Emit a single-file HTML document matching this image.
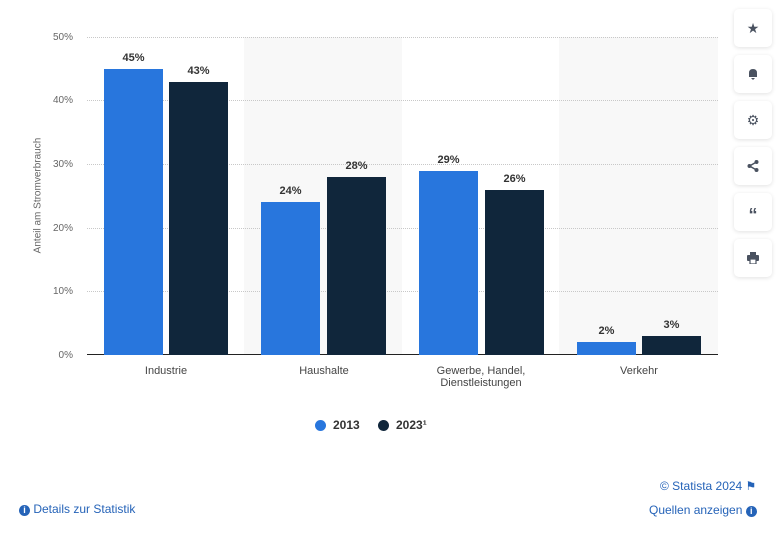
<!DOCTYPE html>
<html><head><meta charset="utf-8"><style>
body{margin:0;width:776px;height:533px;background:#fff;font-family:"Liberation Sans",sans-serif;position:relative;overflow:hidden}
.a{position:absolute}
.g{position:absolute;left:87px;width:631px;border-top:1px dotted #c8c8c8;height:0}
.yl{position:absolute;left:40px;width:33px;text-align:right;font-size:10px;color:#666}
.b{position:absolute;width:59px}
.v{position:absolute;width:59px;text-align:center;font-size:11px;font-weight:bold;color:#333}
.c{position:absolute;width:150px;text-align:center;font-size:11px;color:#444;line-height:12px}
.btn{position:absolute;left:734px;width:38px;height:38px;background:#fff;border-radius:5px;box-shadow:0 1px 4px rgba(0,0,0,.12);color:#4a5260;font-size:14px;text-align:center;line-height:38px}
.btn svg{position:absolute;left:13px;top:13px}
</style></head><body>
<div class="a" style="left:244px;top:37px;width:158px;height:318px;background:#f8f8f8"></div>
<div class="a" style="left:559px;top:37px;width:159px;height:318px;background:#f8f8f8"></div>
<div class="g" style="top:37px"></div><div class="g" style="top:100px"></div><div class="g" style="top:164px"></div><div class="g" style="top:228px"></div><div class="g" style="top:291px"></div>
<div class="a" style="left:87px;top:354px;width:631px;height:1px;background:#222"></div>
<div class="yl" style="top:32px">50%</div><div class="yl" style="top:95px">40%</div><div class="yl" style="top:159px">30%</div><div class="yl" style="top:223px">20%</div><div class="yl" style="top:286px">10%</div><div class="yl" style="top:350px">0%</div>
<div class="a" style="left:-22px;top:190px;width:120px;text-align:center;font-size:10px;color:#666;transform:rotate(-90deg)">Anteil am Stromverbrauch</div>
<div class="b" style="left:104px;top:69px;height:286px;background:#2876dd"></div>
<div class="b" style="left:169px;top:82px;height:273px;background:#10263b"></div>
<div class="b" style="left:261px;top:202px;height:153px;background:#2876dd"></div>
<div class="b" style="left:327px;top:177px;height:178px;background:#10263b"></div>
<div class="b" style="left:419px;top:171px;height:184px;background:#2876dd"></div>
<div class="b" style="left:485px;top:190px;height:165px;background:#10263b"></div>
<div class="b" style="left:577px;top:342px;height:13px;background:#2876dd"></div>
<div class="b" style="left:642px;top:336px;height:19px;background:#10263b"></div>
<div class="v" style="left:104px;top:52px">45%</div><div class="v" style="left:169px;top:65px">43%</div>
<div class="v" style="left:261px;top:185px">24%</div><div class="v" style="left:327px;top:160px">28%</div>
<div class="v" style="left:419px;top:154px">29%</div><div class="v" style="left:485px;top:173px">26%</div>
<div class="v" style="left:577px;top:325px">2%</div><div class="v" style="left:642px;top:319px">3%</div>
<div class="c" style="left:91px;top:365px">Industrie</div>
<div class="c" style="left:249px;top:365px">Haushalte</div>
<div class="c" style="left:406px;top:365px">Gewerbe, Handel,<br>Dienstleistungen</div>
<div class="c" style="left:564px;top:365px">Verkehr</div>
<div class="a" style="left:315px;top:420px;width:11px;height:11px;border-radius:50%;background:#2876dd"></div>
<div class="a" style="left:333px;top:418px;font-size:12px;font-weight:bold;color:#333">2013</div>
<div class="a" style="left:378px;top:420px;width:11px;height:11px;border-radius:50%;background:#10263b"></div>
<div class="a" style="left:396px;top:418px;font-size:12px;font-weight:bold;color:#333">2023¹</div>
<div class="btn" style="top:9px">★</div>
<div class="btn" style="top:55px"><svg width="12" height="12"><path d="M2 9 L2 5 Q2 1 6 1 Q10 1 10 5 L10 9 Z M4 10 L8 10 L6 12Z" fill="#4a5260"/></svg></div>
<div class="btn" style="top:101px">⚙</div>
<div class="btn" style="top:147px"><svg width="12" height="12"><circle cx="2.5" cy="6" r="2" fill="#4a5260"/><circle cx="9.5" cy="2" r="2" fill="#4a5260"/><circle cx="9.5" cy="10" r="2" fill="#4a5260"/><path d="M2.5 6 L9.5 2 M2.5 6 L9.5 10" stroke="#4a5260" stroke-width="1.5"/></svg></div>
<div class="btn" style="top:193px;font-weight:bold;font-size:18px;line-height:44px">“</div>
<div class="btn" style="top:239px"><svg width="12" height="12"><rect x="3" y="0" width="6" height="3" fill="#4a5260"/><rect x="0" y="3" width="12" height="6" rx="1" fill="#4a5260"/><rect x="3" y="7" width="6" height="5" fill="#fff" stroke="#4a5260" stroke-width="1.2"/></svg></div>
<div class="a" style="left:660px;top:479px;font-size:12px;color:#2563b8">© Statista 2024 ⚑</div>
<div class="a" style="left:649px;top:503px;font-size:12px;color:#2563b8">Quellen anzeigen <span style="display:inline-block;width:11px;height:11px;border-radius:50%;background:#2563b8;color:#fff;font-size:9px;text-align:center;line-height:11px;font-weight:bold">i</span></div>
<div class="a" style="left:19px;top:502px;font-size:12px;color:#2563b8"><span style="display:inline-block;width:11px;height:11px;border-radius:50%;background:#2563b8;color:#fff;font-size:9px;text-align:center;line-height:11px;font-weight:bold">i</span> Details zur Statistik</div>
</body></html>
